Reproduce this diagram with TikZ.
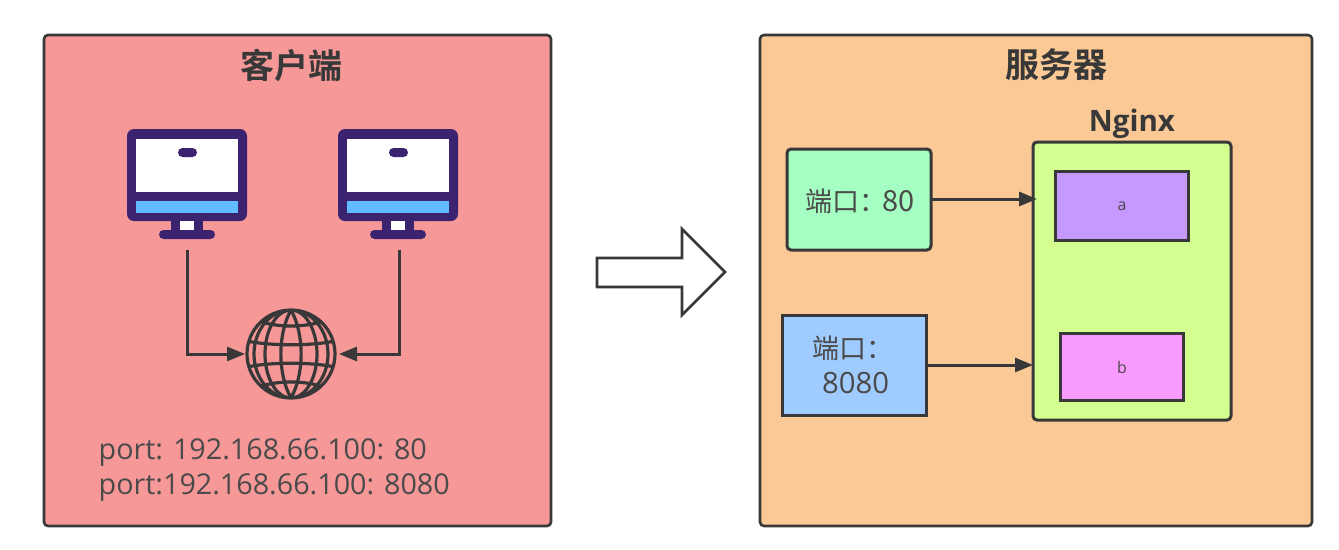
\documentclass[tikz,border=0pt]{standalone}
\usepackage{fontspec}
\setmainfont{Open Sans}
\newfontfamily\cjk{Noto Sans CJK SC}
\newfontfamily\cjkb{Noto Sans CJK SC Bold}
\usetikzlibrary{arrows.meta}
\definecolor{ink}{HTML}{383838}
\definecolor{txt}{HTML}{4A4A4A}
\definecolor{mon}{HTML}{3B2370}
\definecolor{scr}{HTML}{62BBFF}
\definecolor{clientbg}{RGB}{247,152,152}
\definecolor{serverbg}{RGB}{250,201,150}
\definecolor{greenbox}{RGB}{166,255,194}
\definecolor{bluebox}{RGB}{160,203,255}
\definecolor{nginxbox}{RGB}{210,255,143}
\definecolor{abox}{RGB}{197,153,255}
\definecolor{bbox}{RGB}{249,154,255}
\tikzset{
  x=1pt,y=-1pt,
  panel/.style={draw=ink,line width=2.6pt,rounded corners=4pt,inner sep=0pt,outer sep=0pt,anchor=north west},
  box/.style={draw=ink,line width=3pt,inner sep=0pt,outer sep=0pt,anchor=north west},
  roundbox/.style={box,rounded corners=4pt},
  title/.style={font=\cjkb\fontsize{34}{34}\selectfont,text=ink,inner sep=0pt},
  label/.style={font=\cjk\fontsize{27}{32}\selectfont,text=txt,inner sep=0pt},
  small/.style={font=\fontsize{16}{16}\selectfont,text=txt,inner sep=0pt},
  porttext/.style={font=\fontsize{28.7}{35}\selectfont,text=txt,inner sep=0pt,anchor=base west},
  conn/.style={draw=ink,line width=3pt,-{Triangle[length=18pt,width=14pt]}},
  globeline/.style={draw=ink,line width=3.2pt},
  pics/monitor/.style={code={
    \fill[mon,rounded corners=7pt] (0,0) rectangle (120,92);
    \fill[white] (9,10) rectangle (111,63);
    \fill[scr] (9,72) rectangle (111,84);
    \fill[mon,rounded corners=4.5pt] (51,19) rectangle (70,28);
    \fill[mon] (44,92) rectangle (76,104);
    \fill[white] (53,92) rectangle (67,101);
    \fill[mon,rounded corners=4.5pt] (32,101) rectangle (88,110);
  }}
}
\begin{document}
\begin{tikzpicture}
\useasboundingbox (0,0) rectangle (1339,549);
\fill[white] (0,0) rectangle (1339,549);
% panels
\node[panel,fill=clientbg,minimum width=507pt,minimum height=491pt] (client) at (44,35) {};
\node[panel,fill=serverbg,minimum width=552pt,minimum height=491pt] (server) at (760,35) {};
\node[title] (clienttitle) at (291,65) {客户端};
\node[title] (servertitle) at (1056,65) {服务器};
% monitors
\pic at (127,129) {monitor};
\pic at (338,129) {monitor};
\coordinate (monA) at (187,250);
\coordinate (monB) at (399,250);
% globe
\node[circle,minimum size=88pt,inner sep=0pt,outer sep=0pt,draw=ink,line width=3.2pt] (globe) at (291,354) {};
\begin{scope}
\clip (291,354) circle [radius=44pt];
\draw[globeline] (291,354) ellipse [x radius=26pt,y radius=44pt];
\draw[globeline] (291,354) ellipse [x radius=37pt,y radius=44pt];
\draw[globeline] (291,310) .. controls (277.5,334) and (277.5,374) .. (291,398);
\draw[globeline] (291,310) .. controls (304.5,334) and (304.5,374) .. (291,398);
\draw[globeline] (247,341) .. controls (270,346) and (312,346) .. (335,341);
\draw[globeline] (247,367) .. controls (270,362) and (312,362) .. (335,367);
\draw[globeline] (256,320) .. controls (275,328) and (307,328) .. (326,320);
\draw[globeline] (256,388) .. controls (275,380) and (307,380) .. (326,388);
\end{scope}
\coordinate (globeL) at (245,354);
\coordinate (globeR) at (339,354);
\draw[conn] (monA) |- (globeL);
\draw[conn] (monB) |- (globeR);
\node[porttext] (port1) at (98.5,459) {port: 192.168.66.100: 80};
\node[porttext] (port2) at (98.5,494) {port:192.168.66.100: 8080};
% hollow arrow
\draw[ink,line width=2.6pt,fill=white,line join=miter] (597,258) -- (682,258) -- (682,229) -- (725,272) -- (682,315) -- (682,287) -- (597,287) -- cycle;
% server content
\node[roundbox,fill=greenbox,minimum width=144pt,minimum height=101pt] (p80) at (787,149) {};
\node[label,anchor=base west] (p80t) at (805,211) {端口：\kern-4pt\fontsize{29}{29}\selectfont 80};
\node[box,fill=bluebox,minimum width=144pt,minimum height=100pt] (p8080) at (782,315) {};
\node[label,anchor=base west] (p8080a) at (812,358) {端口：};
\node[porttext,font=\fontsize{29.3}{30}\selectfont] (p8080b) at (822,393) {8080};
\node[roundbox,fill=nginxbox,minimum width=198pt,minimum height=278pt] (nginx) at (1033,142) {};
\node[font=\bfseries\fontsize{29.5}{29.5}\selectfont,text=ink,inner sep=0pt] (nginxt) at (1132,123.5) {Nginx};
\node[box,fill=abox,minimum width=133pt,minimum height=69pt] (a) at (1055,171) {};
\node[small] (at) at (1122,206) {a};
\node[box,fill=bbox,minimum width=123pt,minimum height=67pt] (b) at (1060,333) {};
\node[small] (bt) at (1122,367) {b};
\coordinate (na) at (1037,199);
\coordinate (nb) at (1033,365);
\coordinate (pa) at (931,199);
\coordinate (pb) at (927,365);
\draw[conn] (pa) -- (na);
\draw[conn] (pb) -- (nb);
\end{tikzpicture}
\end{document}
